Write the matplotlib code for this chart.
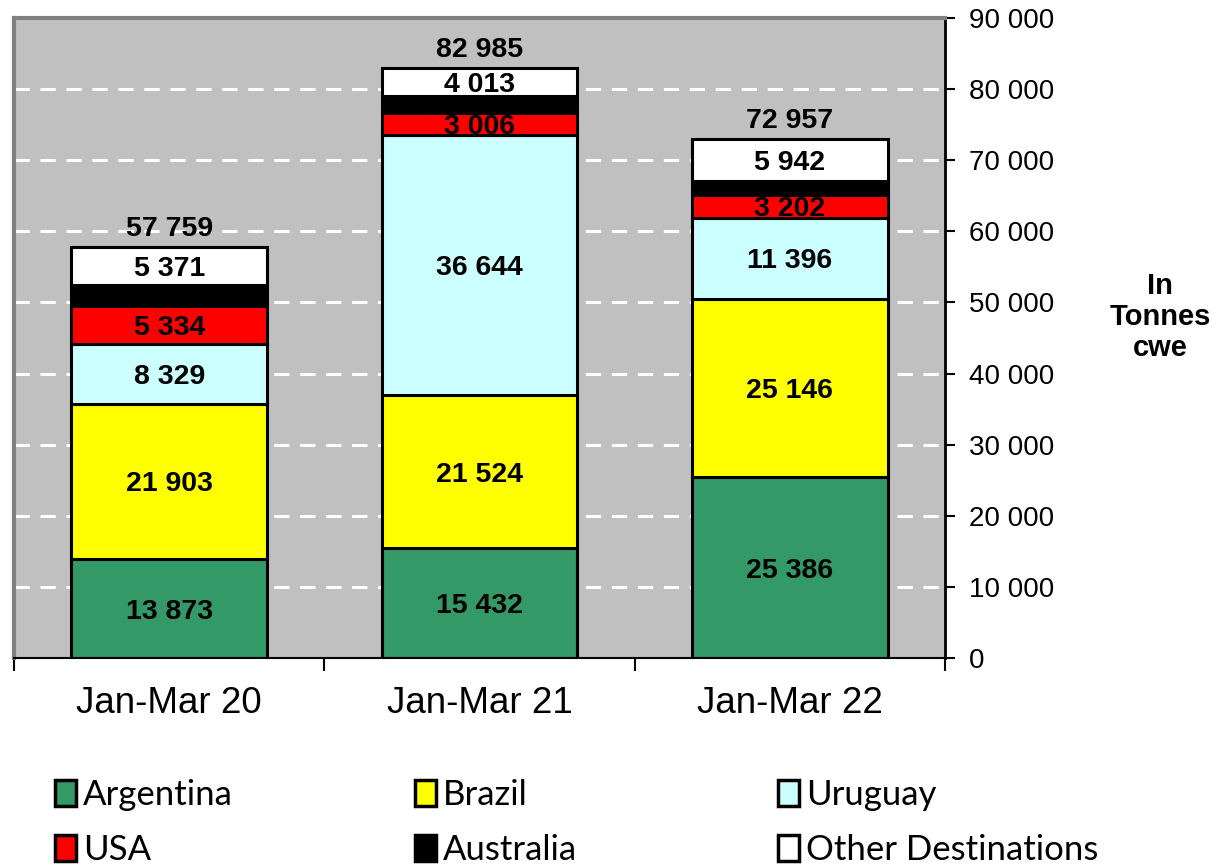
import matplotlib.pyplot as plt
import numpy as np
from matplotlib.patches import Patch

periods = ["Jan-Mar 20", "Jan-Mar 21", "Jan-Mar 22"]
series = ["Argentina", "Brazil", "Uruguay", "USA", "Australia", "Other Destinations"]
argentina = [13873, 15432, 25386]
brazil = [21903, 21524, 25146]
uruguay = [8329, 36644, 11396]
usa = [5334, 3006, 3202]
australia = [2949, 2366, 1885]
other = [5371, 4013, 5942]
totals = [57759, 82985, 72957]
labelled = [True, True, True, True, False, True]

colors = ["#339966", "#FFFF00", "#CCFFFF", "#FF0000", "#000000", "#FFFFFF"]


def fmt(v):
    return f"{v:,.0f}".replace(",", " ")


values = [argentina, brazil, uruguay, usa, australia, other]
x = np.arange(len(periods))

fig = plt.figure(figsize=(12.16, 8.66), dpi=100)
ax = fig.add_axes([14 / 1216, 1 - 658 / 866, (945 - 14) / 1216, (658 - 18) / 866])
ax.set_facecolor("#C0C0C0")

bottom = np.zeros(len(periods))
for name, vals, col, lab in zip(series, values, colors, labelled):
    vals = np.array(vals)
    ax.bar(x, vals, 0.63, bottom=bottom, color=col, edgecolor="black", linewidth=2.2, zorder=2)
    if lab:
        for xi, b, v in zip(x, bottom, vals):
            ax.text(xi, b + v / 2, fmt(v), ha="center", va="center_baseline", fontsize=20.5,
                    fontweight="bold", family="Liberation Sans", zorder=3)
    bottom += vals

for xi, t in zip(x, totals):
    ax.annotate(fmt(t), (xi, t), xytext=(0, 15), textcoords="offset points", ha="center",
                va="center_baseline", fontsize=20.5, fontweight="bold", family="Liberation Sans",
                zorder=3)

ax.set_xlim(-0.5, 2.5)
ax.set_ylim(0, 90000)
ax.yaxis.tick_right()
ax.set_yticks(np.arange(0, 90001, 10000))
ax.set_yticklabels([fmt(v) for v in np.arange(0, 90001, 10000)], fontsize=20, family="Liberation Sans")
ax.tick_params(axis="y", direction="out", length=7, width=1.5, pad=10)
for g in np.arange(10000, 80001, 10000):
    ax.axhline(g, color="white", linewidth=2.2, linestyle=(0, (5, 3.5)), zorder=1)

ax.set_xticks([-0.5, 0.5, 1.5, 2.5])
ax.set_xticklabels([])
ax.set_xticks(x, minor=True)
ax.set_xticklabels(periods, minor=True, fontsize=26.5, family="Liberation Sans")
ax.tick_params(axis="x", which="major", direction="out", length=9, width=1.5)
ax.tick_params(axis="x", which="minor", length=0, pad=20)

for side in ["left", "top"]:
    ax.spines[side].set_color("#808080")
    ax.spines[side].set_linewidth(3)
ax.spines["right"].set_linewidth(2)
ax.spines["bottom"].set_linewidth(1.5)

fig.text(1160 / 1216, 1 - 317 / 866, "In\nTonnes\ncwe", ha="center", va="center",
         fontsize=21, fontweight="bold", family="Liberation Sans", linespacing=1.15)

# legend in three columns, two rows each
col_x = [55 / 1216, 415 / 1216, 778 / 1216]
for c in range(3):
    idx = [c, c + 3]
    handles = [Patch(facecolor=colors[i], edgecolor="black", linewidth=2.5) for i in idx]
    fig.legend(handles, [series[i] for i in idx], loc="upper left",
               bbox_to_anchor=(col_x[c], 1 - 779 / 866), frameon=False,
               prop={"family": "Lato", "size": 25}, handlelength=0.6, handleheight=0.75,
               handletextpad=0.2, labelspacing=0.66, borderaxespad=0, borderpad=0)

fig.savefig("out.png", dpi=100)
